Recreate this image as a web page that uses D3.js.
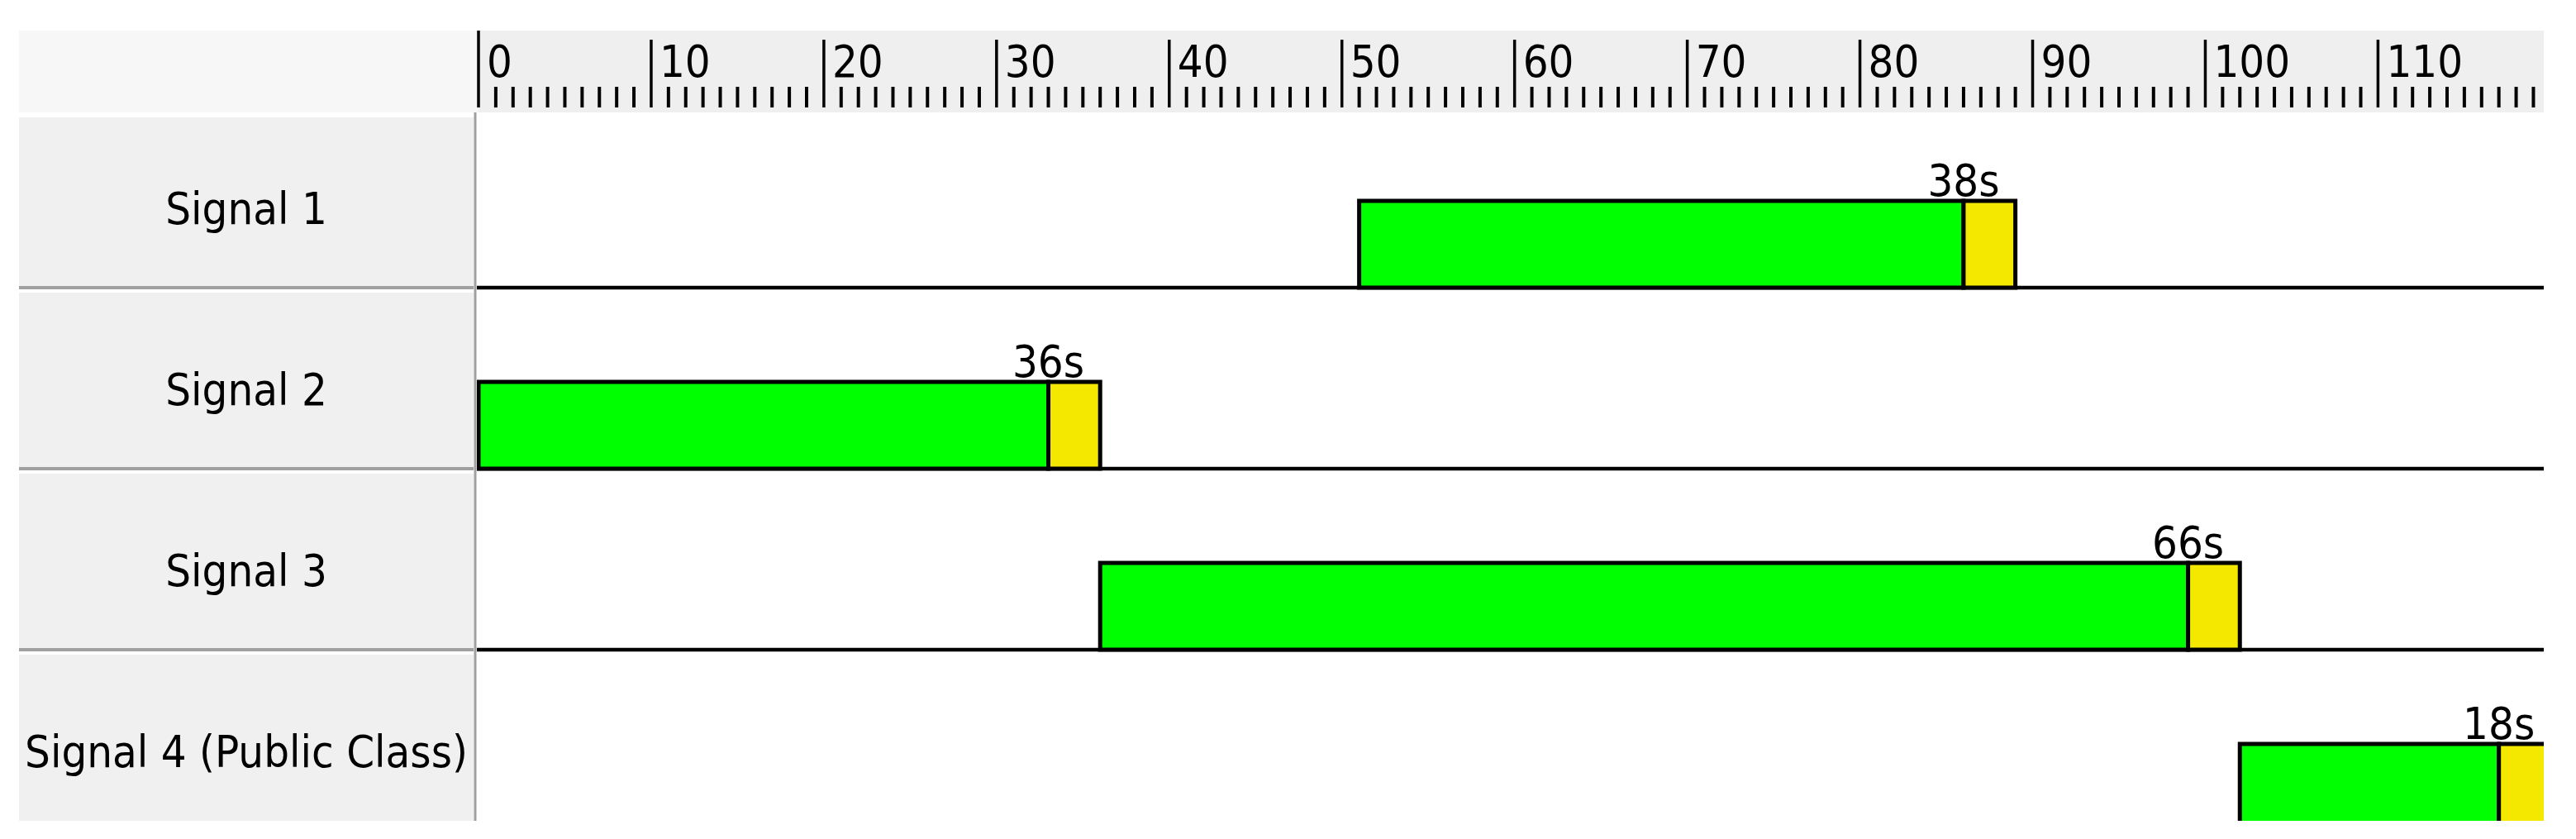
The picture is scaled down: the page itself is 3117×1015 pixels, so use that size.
<!DOCTYPE html>
<html><head><meta charset="utf-8">
<script src="https://cdn.jsdelivr.net/npm/d3@7"></script>
<style>html,body{margin:0;padding:0;background:#fff;overflow:hidden}</style>
</head><body><svg id="chart"></svg>
<script>
// ---- data ----
const signals = ["Signal 1", "Signal 2", "Signal 3", "Signal 4 (Public Class)"];
const greenStart = [51, 0, 36, 102];
const greenEnd = [86, 33, 99, 117];
const yellowEnd = [89, 36, 102, 120];
const durationLabels = ["38s", "36s", "66s", "18s"];
const majorTicks = [0, 10, 20, 30, 40, 50, 60, 70, 80, 90, 100, 110];
const tickLabels = ["0", "10", "20", "30", "40", "50", "60", "70", "80", "90", "100", "110"];
const minorTicks = d3.range(1, 120).filter(d => d % 10 !== 0);

// ---- layout ----
const W = 3117, H = 1015;
const panelL = 23, panelR = 573, plotL = 577, plotR = 3078;
const headerT = 37, headerB = 136, contentB = 993;
const font = "'DejaVu Sans Condensed', 'DejaVu Sans', sans-serif";
const fs = 54;

const svg = d3.select("#chart").attr("width", W).attr("height", H)
  .style("font-family", font).style("font-stretch", "condensed");

const x = d3.scaleLinear().domain([0, 119.6]).range([579, plotR]);
const y = d3.scaleBand().domain(signals).range([129, 1005]).padding(0);
const barH = 105;

const rows = signals.map((s, i) => ({
  name: s, gs: greenStart[i], ge: greenEnd[i], ye: yellowEnd[i], label: durationLabels[i]
}));

const defs = svg.append("defs");
defs.append("clipPath").attr("id", "plotClip").append("rect")
  .attr("x", plotL).attr("y", headerB).attr("width", plotR - plotL).attr("height", contentB - headerB);
defs.append("clipPath").attr("id", "panelClip").append("rect")
  .attr("x", panelL).attr("y", headerB).attr("width", panelR - panelL + 4).attr("height", contentB - headerB);

// ---- header band ----
svg.append("rect").attr("x", panelL).attr("y", headerT).attr("width", 579 - panelL).attr("height", headerB - headerT).attr("fill", "#f7f7f7");
svg.append("rect").attr("x", 579).attr("y", headerT).attr("width", plotR - 579).attr("height", headerB - headerT).attr("fill", "#efeff0");

const ruler = svg.append("g");
ruler.selectAll("line.minor").data(minorTicks).join("line").attr("class", "minor")
  .attr("x1", d => x(d)).attr("x2", d => x(d)).attr("y1", 105).attr("y2", 130)
  .attr("stroke", "#000").attr("stroke-width", 4);
ruler.selectAll("line.major").data(majorTicks).join("line").attr("class", "major")
  .attr("x1", d => x(d)).attr("x2", d => x(d)).attr("y1", d => d === 0 ? headerT : 48).attr("y2", 130)
  .attr("stroke", "#000").attr("stroke-width", 3.5);
ruler.selectAll("text").data(majorTicks).join("text")
  .attr("x", d => x(d) + 10).attr("y", 93)
  .attr("font-size", fs).attr("fill", "#000")
  .text((d, i) => tickLabels[i]);

// ---- label panel ----
const panel = svg.append("g").attr("clip-path", "url(#panelClip)");
panel.selectAll("rect.cell").data(rows).join("rect").attr("class", "cell")
  .attr("x", panelL).attr("width", panelR - panelL)
  .attr("y", d => Math.max(y(d.name), headerB) + 6)
  .attr("height", d => y(d.name) + y.bandwidth() - Math.max(y(d.name), headerB) - 8)
  .attr("fill", "#f0f0f0");
panel.selectAll("line.sep").data(rows.slice(0, 3)).join("line").attr("class", "sep")
  .attr("x1", panelL).attr("x2", panelR)
  .attr("y1", d => y(d.name) + y.bandwidth()).attr("y2", d => y(d.name) + y.bandwidth())
  .attr("stroke", "#a0a0a0").attr("stroke-width", 4);
panel.selectAll("text").data(rows).join("text")
  .attr("x", (panelL + panelR) / 2)
  .attr("y", d => y(d.name) + y.bandwidth() - 77)
  .attr("text-anchor", "middle").attr("font-size", fs).attr("fill", "#000")
  .text(d => d.name);
svg.append("line").attr("x1", 575).attr("x2", 575).attr("y1", headerB).attr("y2", contentB)
  .attr("stroke", "#a0a0a0").attr("stroke-width", 3);

// ---- plot ----
const plot = svg.append("g").attr("clip-path", "url(#plotClip)");
plot.selectAll("line.row").data(rows).join("line").attr("class", "row")
  .attr("x1", plotL).attr("x2", plotR)
  .attr("y1", d => y(d.name) + y.bandwidth()).attr("y2", d => y(d.name) + y.bandwidth())
  .attr("stroke", "#000").attr("stroke-width", 4.5);
plot.selectAll("rect.green").data(rows).join("rect").attr("class", "green")
  .attr("x", d => x(d.gs)).attr("width", d => x(d.ge) - x(d.gs))
  .attr("y", d => y(d.name) + y.bandwidth() - barH).attr("height", barH)
  .attr("fill", "#00ff00").attr("stroke", "#000").attr("stroke-width", 5);
plot.selectAll("rect.yellow").data(rows).join("rect").attr("class", "yellow")
  .attr("x", d => x(d.ge)).attr("width", d => x(d.ye) - x(d.ge))
  .attr("y", d => y(d.name) + y.bandwidth() - barH).attr("height", barH)
  .attr("fill", "#f4e800").attr("stroke", "#000").attr("stroke-width", 5);
plot.selectAll("text.dur").data(rows).join("text").attr("class", "dur")
  .attr("x", d => x(d.ge)).attr("y", d => y(d.name) + y.bandwidth() - barH - 6)
  .attr("text-anchor", "middle").attr("font-size", fs).attr("fill", "#000")
  .text(d => d.label);
</script>
</body></html>
